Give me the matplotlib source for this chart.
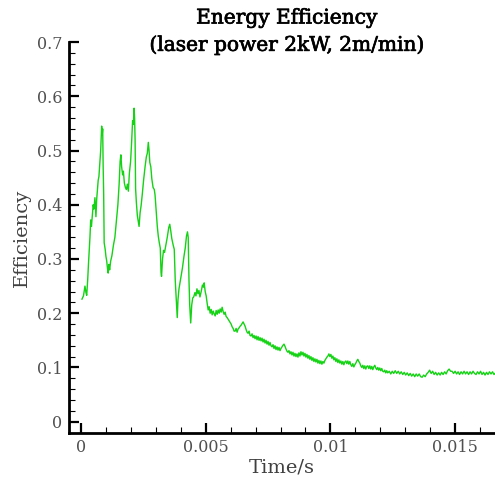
import matplotlib
matplotlib.use("Agg")
import matplotlib.pyplot as plt
import matplotlib.patheffects as pe
from matplotlib.ticker import MultipleLocator, FuncFormatter

# Energy efficiency over time, 2 kW laser at 2 m/min
# Early transient (keyhole oscillation phase)
early_t = [0.00004, 0.00010, 0.00016, 0.00020, 0.00023, 0.00027, 0.00030, 0.00036, 0.00039, 0.00042,
           0.00049, 0.00052, 0.00056, 0.00060, 0.00063, 0.00069, 0.00072, 0.00076, 0.00079, 0.00083,
           0.00085, 0.00087, 0.00089, 0.00091, 0.00093, 0.00097, 0.00100, 0.00103, 0.00106, 0.00109,
           0.00112, 0.00115, 0.00119, 0.00124, 0.00130, 0.00136, 0.00143, 0.00148, 0.00153, 0.00157,
           0.00160, 0.00163, 0.00167, 0.00170, 0.00174, 0.00178, 0.00182, 0.00186, 0.00190, 0.00194,
           0.00199, 0.00203, 0.00207, 0.00210, 0.00213, 0.00215, 0.00217, 0.00219, 0.00222, 0.00226,
           0.00230, 0.00233, 0.00237, 0.00241, 0.00246, 0.00251, 0.00257, 0.00262, 0.00266, 0.00270,
           0.00273, 0.00276, 0.00280, 0.00284, 0.00289, 0.00294, 0.00297, 0.00301, 0.00306, 0.00310,
           0.00314, 0.00318, 0.00321, 0.00323, 0.00327, 0.00331, 0.00335, 0.00340, 0.00346, 0.00352,
           0.00356, 0.00360, 0.00364, 0.00370, 0.00374, 0.00378, 0.00383, 0.00386, 0.00389, 0.00393,
           0.00400, 0.00407, 0.00413, 0.00418, 0.00423, 0.00427, 0.00430, 0.00433, 0.00436, 0.00440,
           0.00444, 0.00448, 0.00452, 0.00457, 0.00461, 0.00465, 0.00469, 0.00473, 0.00477, 0.00482,
           0.00487, 0.00491, 0.00494, 0.00498]
early_eff = [0.226, 0.232, 0.250, 0.238, 0.233, 0.262, 0.290, 0.340, 0.372, 0.360,
             0.400, 0.392, 0.413, 0.378, 0.410, 0.445, 0.452, 0.478, 0.500, 0.545,
             0.528, 0.540, 0.470, 0.420, 0.330, 0.318, 0.305, 0.297, 0.284, 0.274,
             0.290, 0.280, 0.296, 0.306, 0.325, 0.340, 0.375, 0.400, 0.438, 0.480,
             0.492, 0.470, 0.455, 0.462, 0.440, 0.432, 0.428, 0.438, 0.425, 0.458,
             0.480, 0.515, 0.555, 0.548, 0.578, 0.560, 0.520, 0.430, 0.405, 0.380,
             0.368, 0.360, 0.385, 0.398, 0.420, 0.445, 0.470, 0.488, 0.495, 0.515,
             0.500, 0.478, 0.470, 0.448, 0.432, 0.428, 0.418, 0.392, 0.360, 0.342,
             0.330, 0.320, 0.275, 0.268, 0.300, 0.316, 0.312, 0.325, 0.340, 0.358,
             0.364, 0.352, 0.338, 0.325, 0.318, 0.260, 0.215, 0.192, 0.225, 0.245,
             0.265, 0.284, 0.305, 0.320, 0.342, 0.350, 0.340, 0.262, 0.215, 0.182,
             0.215, 0.228, 0.230, 0.238, 0.232, 0.245, 0.236, 0.242, 0.230, 0.240,
             0.252, 0.248, 0.256, 0.240]

# Decay towards quasi-steady state
decay_t = [0.00502, 0.00506, 0.00510, 0.00514, 0.00518, 0.00522, 0.00526, 0.00530, 0.00534, 0.00538,
           0.00542, 0.00546, 0.00550, 0.00554, 0.00558, 0.00562, 0.00566, 0.00570, 0.00574, 0.00578,
           0.00582, 0.00586, 0.00590, 0.00594, 0.00598, 0.00602, 0.00606, 0.00610, 0.00614, 0.00618,
           0.00622, 0.00626, 0.00630, 0.00634, 0.00638, 0.00642, 0.00646, 0.00650, 0.00654, 0.00658,
           0.00662, 0.00666, 0.00670, 0.00674, 0.00678, 0.00682, 0.00686, 0.00690, 0.00694, 0.00698,
           0.00702, 0.00706, 0.00710, 0.00714, 0.00718, 0.00722, 0.00726, 0.00730, 0.00734, 0.00738,
           0.00742, 0.00746, 0.00750, 0.00754, 0.00758, 0.00762, 0.00766, 0.00770, 0.00774, 0.00778,
           0.00782, 0.00786, 0.00790, 0.00794, 0.00798, 0.00802, 0.00806, 0.00810, 0.00814, 0.00818,
           0.00822, 0.00826, 0.00830, 0.00834, 0.00838, 0.00842, 0.00846, 0.00850, 0.00854, 0.00858,
           0.00862, 0.00866, 0.00870, 0.00874, 0.00878, 0.00882, 0.00886, 0.00890, 0.00894, 0.00898,
           0.00902, 0.00906, 0.00910, 0.00914, 0.00918, 0.00922, 0.00926, 0.00930, 0.00934, 0.00938,
           0.00942, 0.00946, 0.00950, 0.00954, 0.00958, 0.00962, 0.00966, 0.00970, 0.00974, 0.00978,
           0.00982, 0.00986, 0.00990, 0.00994, 0.00998, 0.01002, 0.01006, 0.01010, 0.01014, 0.01018,
           0.01022, 0.01026, 0.01030, 0.01034, 0.01038, 0.01042, 0.01046, 0.01050, 0.01054, 0.01058,
           0.01062, 0.01066, 0.01070, 0.01074, 0.01078, 0.01082, 0.01086, 0.01090, 0.01094, 0.01098,
           0.01102, 0.01106, 0.01110, 0.01114, 0.01118, 0.01122, 0.01126, 0.01130, 0.01134, 0.01138,
           0.01142, 0.01146, 0.01150, 0.01154, 0.01158, 0.01162, 0.01166, 0.01170, 0.01174, 0.01178,
           0.01182, 0.01186, 0.01190, 0.01194, 0.01198, 0.01202, 0.01206, 0.01210, 0.01214, 0.01218,
           0.01222, 0.01226, 0.01230]
decay_eff = [0.232, 0.218, 0.206, 0.212, 0.200, 0.207, 0.197, 0.204, 0.199, 0.195,
             0.205, 0.198, 0.206, 0.200, 0.208, 0.202, 0.211, 0.203, 0.198, 0.202,
             0.194, 0.192, 0.189, 0.186, 0.183, 0.180, 0.175, 0.172, 0.167, 0.167,
             0.172, 0.165, 0.171, 0.173, 0.176, 0.178, 0.181, 0.184, 0.180, 0.176,
             0.170, 0.165, 0.163, 0.167, 0.159, 0.158, 0.162, 0.155, 0.159, 0.153,
             0.158, 0.151, 0.157, 0.150, 0.155, 0.149, 0.154, 0.147, 0.152, 0.145,
             0.150, 0.143, 0.148, 0.141, 0.146, 0.140, 0.138, 0.142, 0.135, 0.140,
             0.133, 0.138, 0.132, 0.137, 0.131, 0.135, 0.138, 0.141, 0.143, 0.139,
             0.134, 0.130, 0.128, 0.131, 0.125, 0.129, 0.123, 0.128, 0.121, 0.126,
             0.120, 0.125, 0.119, 0.127, 0.121, 0.129, 0.123, 0.128, 0.121, 0.126,
             0.119, 0.124, 0.117, 0.122, 0.115, 0.120, 0.113, 0.118, 0.111, 0.116,
             0.110, 0.115, 0.108, 0.113, 0.107, 0.112, 0.106, 0.111, 0.108, 0.113,
             0.116, 0.119, 0.121, 0.125, 0.120, 0.124, 0.117, 0.121, 0.114, 0.118,
             0.111, 0.116, 0.109, 0.114, 0.108, 0.112, 0.106, 0.111, 0.105, 0.110,
             0.112, 0.107, 0.112, 0.106, 0.111, 0.105, 0.102, 0.107, 0.101, 0.105,
             0.108, 0.112, 0.115, 0.111, 0.108, 0.103, 0.100, 0.104, 0.098, 0.103,
             0.097, 0.102, 0.103, 0.098, 0.103, 0.097, 0.102, 0.096, 0.101, 0.104,
             0.099, 0.096, 0.100, 0.095, 0.099, 0.094, 0.098, 0.093, 0.092, 0.095,
             0.090, 0.094, 0.090]

# Quasi-steady tail
tail_t = [0.01236, 0.01242, 0.01248, 0.01254, 0.01260, 0.01266, 0.01272, 0.01278, 0.01284, 0.01290,
          0.01296, 0.01302, 0.01308, 0.01314, 0.01320, 0.01326, 0.01332, 0.01338, 0.01344, 0.01350,
          0.01356, 0.01362, 0.01368, 0.01374, 0.01380, 0.01386, 0.01392, 0.01398, 0.01404, 0.01410,
          0.01416, 0.01422, 0.01428, 0.01434, 0.01440, 0.01446, 0.01452, 0.01458, 0.01464, 0.01470,
          0.01476, 0.01482, 0.01488, 0.01494, 0.01500, 0.01506, 0.01512, 0.01518, 0.01524, 0.01530,
          0.01536, 0.01542, 0.01548, 0.01554, 0.01560, 0.01566, 0.01572, 0.01578, 0.01584, 0.01590,
          0.01596, 0.01602, 0.01608, 0.01614, 0.01620, 0.01626, 0.01632, 0.01638, 0.01644, 0.01650,
          0.01656, 0.01662]
tail_eff = [0.093, 0.088, 0.093, 0.089, 0.094, 0.089, 0.093, 0.088, 0.092, 0.087,
            0.091, 0.086, 0.090, 0.085, 0.089, 0.084, 0.088, 0.083, 0.088, 0.084,
            0.088, 0.083, 0.082, 0.086, 0.083, 0.088, 0.091, 0.095, 0.089, 0.093,
            0.087, 0.091, 0.086, 0.090, 0.086, 0.091, 0.087, 0.092, 0.088, 0.094,
            0.097, 0.093, 0.093, 0.089, 0.093, 0.088, 0.092, 0.087, 0.092, 0.088,
            0.093, 0.088, 0.092, 0.087, 0.092, 0.088, 0.093, 0.089, 0.087, 0.092,
            0.088, 0.093, 0.087, 0.091, 0.086, 0.091, 0.087, 0.092, 0.088, 0.092,
            0.087, 0.090]

time_s = early_t + decay_t + tail_t
efficiency = early_eff + decay_eff + tail_eff

x_ticks = [0, 0.005, 0.01, 0.015]
y_ticks = [0, 0.1, 0.2, 0.3, 0.4, 0.5, 0.6, 0.7]

plt.rcParams["font.family"] = ["DejaVu Serif"]

fig = plt.figure(figsize=(4.95, 4.82), dpi=100)
ax = fig.add_axes([69 / 495, 1 - 433.3 / 482, (495 - 69) / 495, (433.3 - 41.5) / 482])

ax.plot(time_s, efficiency, color="#14d214", lw=1.0)

ax.set_xlim(-0.00048, 0.01660)
ax.set_ylim(-0.0214, 0.701)

for side in ("top", "right"):
    ax.spines[side].set_visible(False)
for side in ("left", "bottom"):
    ax.spines[side].set_linewidth(2.0)
    ax.spines[side].set_color("black")

ax.set_xticks(x_ticks)
ax.set_yticks(y_ticks)
ax.xaxis.set_minor_locator(MultipleLocator(0.001))
ax.yaxis.set_minor_locator(MultipleLocator(0.02))
ax.xaxis.set_major_formatter(FuncFormatter(lambda v, p: f"{v:g}"))
ax.yaxis.set_major_formatter(FuncFormatter(lambda v, p: f"{v:g}"))

ax.tick_params(which="major", direction="in", length=7.5, width=1.6, color="black",
               labelsize=11.5, labelcolor="#505050")
ax.tick_params(axis="y", which="major", pad=5)
ax.tick_params(axis="x", which="major", pad=4)
ax.tick_params(which="minor", direction="in", length=4, width=0.8, color="black")

ax.set_xlabel("Time/s", fontsize=14, color="#404040", labelpad=2)
ax.set_ylabel("Efficiency", fontsize=14, color="#404040", labelpad=4)

# Title drawn with a thin outline for a semi-bold look
title_fx = [pe.withStroke(linewidth=0.5, foreground="black")]
fig.text(287 / 495, 1 - 18 / 482, "Energy Efficiency", ha="center", va="center",
         fontsize=14.5, color="black", path_effects=title_fx)
fig.text(287 / 495, 1 - 45 / 482, "(laser power 2kW, 2m/min)", ha="center", va="center",
         fontsize=14.5, color="black", path_effects=title_fx)

fig.savefig("out.png", dpi=100)
